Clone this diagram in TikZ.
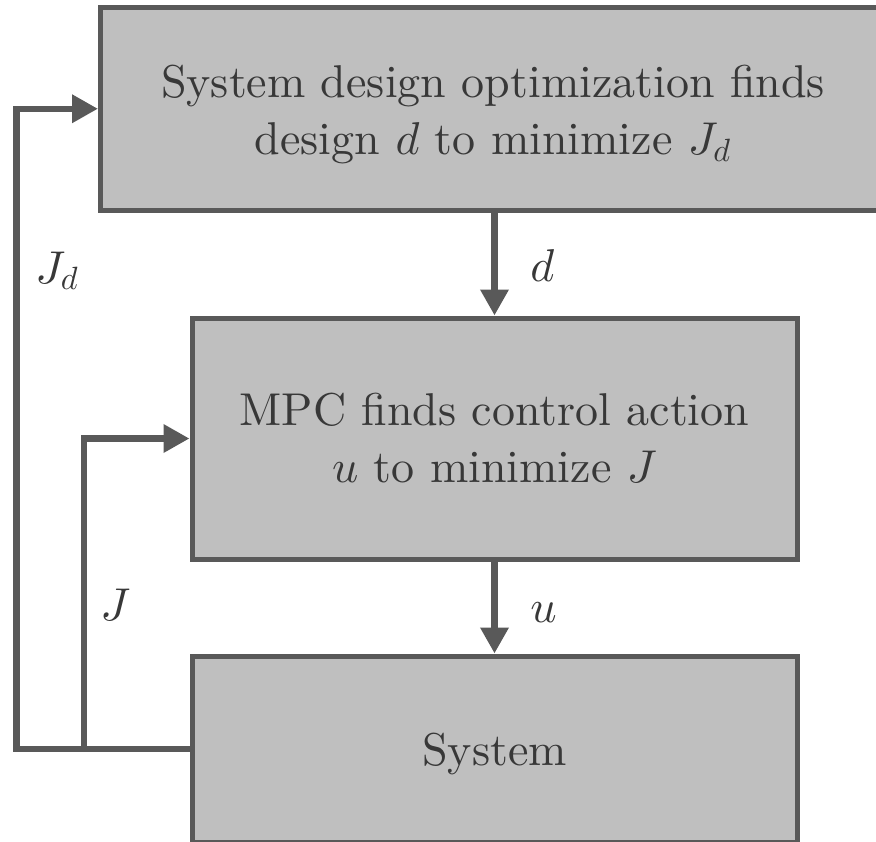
\RequirePackage{fix-cm}
\documentclass[tikz,border=0pt]{standalone}
\usepackage{fontspec}
\setmainfont{lmroman10-regular}[Extension=.otf,
  ItalicFont=lmroman10-italic, BoldFont=lmroman10-bold,
  BoldItalicFont=lmroman10-bolditalic]
\DeclareFontShape{OML}{cmm}{m}{it}{<->cmmi10}{}
\usetikzlibrary{arrows.meta}

\definecolor{edge}{HTML}{595959}
\definecolor{boxfill}{HTML}{BFBFBF}
\definecolor{ink}{HTML}{383838}

\tikzset{
  block/.style={draw=edge, fill=boxfill, line width=2.5pt, rectangle,
    inner sep=0pt},
  blocktext/.style={text=ink, inner sep=0pt, align=center},
  link/.style={draw=edge, line width=3.25pt, line join=miter,
    -{Triangle[width=13.5pt,length=13pt]}},
  tag/.style={text=ink, inner sep=0pt, anchor=base west}
}

\begin{document}
\begin{tikzpicture}[x=0.5pt, y=-0.5pt, font=\fontsize{23}{28.5}\selectfont]
  \useasboundingbox (0,0) rectangle (876,841);

  % blocks
  \node[block, minimum width=392.5pt, minimum height=101.25pt] (design) at (493,108.75) {};
  \node[block, minimum width=302.5pt, minimum height=120.5pt] (mpc) at (494.5,438.5) {};
  \node[block, minimum width=302.5pt, minimum height=93pt] (plant) at (494.5,749) {};

  % block captions
  \node[blocktext] (designtxt) at ([yshift=-3pt]design.center)
    {System design optimization finds\\ design $d$ to minimize $J_d$};
  \node[blocktext] (mpctxt) at (mpc.center)
    {MPC finds control action\\ $u$ to minimize $J$};
  \node[blocktext] (planttxt) at ([yshift=-2.25pt]plant.center) {System};

  % forward path
  \draw[link] (mpc.north |- design.south) -- (mpc.north);
  \draw[link] (mpc.south) -- (plant.north);

  % feedback paths
  \coordinate (outerx) at (16.5,749);
  \coordinate (innerx) at (84,749);
  \draw[link] (plant.west) -- (outerx) |- (design.west);
  \draw[link] (innerx) |- (mpc.west);

  % signal labels
  \node[tag] (ljd) at (35,283) {$J_d$};
  \node[tag] (ld) at (530,281) {$d$};
  \node[tag] (lj) at (100,620) {$J$};
  \node[tag] (lu) at (530,622) {$u$};
\end{tikzpicture}
\end{document}
